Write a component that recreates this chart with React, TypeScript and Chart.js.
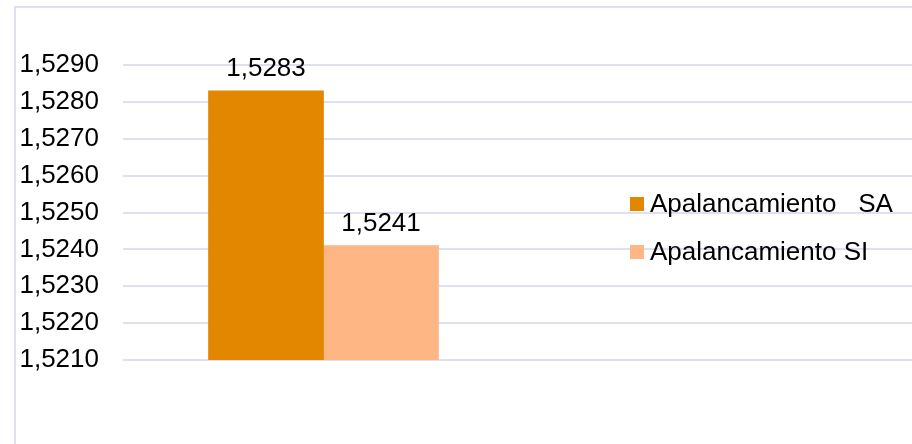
import React, { useEffect, useRef } from "react";
import { Chart, registerables } from "chart.js";

Chart.register(...registerables);

const categories = ["Apalancamiento"];
const seriesNames = ["Apalancamiento   SA", "Apalancamiento SI"];
const valuesSA = [1.5283];
const valuesSI = [1.5241];
const yMin = 1.521;
const yMax = 1.529;
const yStep = 0.001;

const colors = ["#E38600", "#FFB685"];
const gridColor = "#DCE0EF";
const FONT = "'Liberation Sans', Arial, Helvetica, sans-serif";
const FONT_SIZE = 26;

const fmt = (v: number) => v.toFixed(4).replace(".", ",");

const customPlugin = {
  id: "customDraw",
  beforeDraw(chart: any) {
    const ctx = chart.ctx;
    ctx.save();
    ctx.fillStyle = "#ffffff";
    ctx.fillRect(0, 0, chart.width, chart.height);
    ctx.strokeStyle = gridColor;
    ctx.lineWidth = 2;
    // outer frame (left + top visible)
    ctx.beginPath();
    ctx.moveTo(15, chart.height + 2);
    ctx.lineTo(15, 7);
    ctx.lineTo(chart.width + 2, 7);
    ctx.stroke();
    // horizontal gridlines across to the right edge
    const ys = chart.scales.y;
    ys.ticks.forEach((_t: any, i: number) => {
      const py = Math.round(ys.getPixelForTick(i));
      ctx.beginPath();
      ctx.moveTo(chart.chartArea.left, py);
      ctx.lineTo(chart.width, py);
      ctx.stroke();
    });
    ctx.restore();
  },
  afterDatasetsDraw(chart: any) {
    const ctx = chart.ctx;
    ctx.save();
    ctx.font = `${FONT_SIZE}px ${FONT}`;
    ctx.fillStyle = "#000000";
    ctx.textAlign = "center";
    ctx.textBaseline = "alphabetic";
    chart.data.datasets.forEach((ds: any, di: number) => {
      const meta = chart.getDatasetMeta(di);
      meta.data.forEach((bar: any, i: number) => {
        ctx.fillText(fmt(ds.data[i]), bar.x, bar.y - 15);
      });
    });
    // legend
    const lx = 630;
    const ly = [197, 245];
    ctx.textAlign = "left";
    ctx.textBaseline = "middle";
    chart.data.datasets.forEach((ds: any, di: number) => {
      ctx.fillStyle = ds.backgroundColor;
      ctx.fillRect(lx, ly[di], 14, 14);
      ctx.fillStyle = "#000000";
      ctx.fillText(ds.label, lx + 20, ly[di] + 8);
    });
    ctx.restore();
  },
};

export default function App() {
  const ref = useRef<HTMLCanvasElement | null>(null);

  useEffect(() => {
    if (!ref.current) return;
    const chart = new Chart(ref.current, {
      type: "bar",
      data: {
        labels: categories,
        datasets: [
          { label: seriesNames[0], data: valuesSA, backgroundColor: colors[0], barThickness: 115 },
          { label: seriesNames[1], data: valuesSI, backgroundColor: colors[1], barThickness: 115 },
        ],
      },
      options: {
        animation: false,
        responsive: false,
        maintainAspectRatio: false,
        layout: { padding: { left: 18, top: 65, right: 388, bottom: 84 } },
        plugins: {
          legend: { display: false },
          tooltip: { enabled: false },
        },
        scales: {
          x: { display: false, grid: { display: false } },
          y: {
            min: yMin,
            max: yMax,
            grid: { display: false, drawTicks: false },
            border: { display: false },
            afterFit: (s: any) => {
              s.width = 105;
            },
            ticks: {
              stepSize: yStep,
              padding: 24,
              color: "#000000",
              font: { family: FONT, size: FONT_SIZE },
              callback: (v: any) => fmt(Number(v)),
            },
          },
        },
      },
      plugins: [customPlugin],
    });
    return () => chart.destroy();
  }, []);

  return (
    <div style={{ position: "absolute", left: 0, top: 0, width: 912, height: 444, background: "#fff" }}>
      <canvas ref={ref} width={912} height={444} style={{ display: "block", width: 912, height: 444 }} />
    </div>
  );
}
